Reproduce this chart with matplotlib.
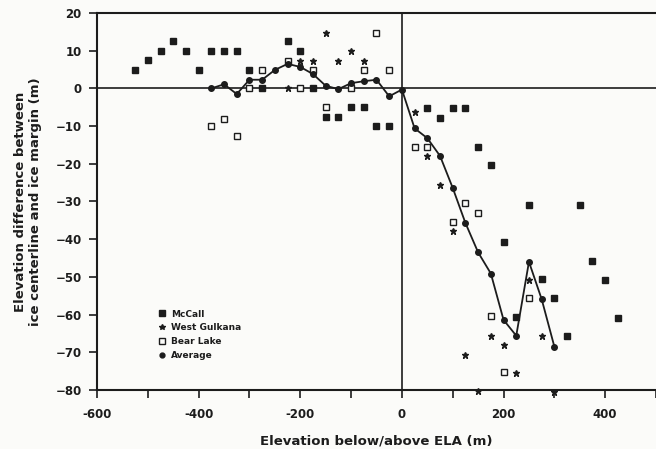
import matplotlib
matplotlib.use("Agg")
import matplotlib.pyplot as plt
from matplotlib.ticker import MultipleLocator, FuncFormatter
from matplotlib.lines import Line2D

# McCall (filled squares)
mccall_x = [-525, -500, -475, -450, -425, -400, -375, -350, -325, -300, -275,
            -225, -200, -175, -150, -125, -100, -75, -50, -25,
            50, 75, 100, 125, 150, 175, 200, 225, 250, 275, 300, 325, 350, 375, 400, 425]
mccall_y = [5, 7.5, 10, 12.5, 10, 5, 10, 10, 10, 5, 0,
            12.5, 10, 0, -7.5, -7.5, -5, -5, -10, -10,
            -5.3, -7.9, -5.3, -5.3, -15.5, -20.3, -40.7, -60.6, -30.9, -50.6, -55.7, -65.6,
            -30.9, -45.8, -50.8, -60.8]

# West Gulkana (stars)
gulkana_x = [-225, -200, -175, -150, -125, -100, -75,
             25, 50, 75, 100, 125, 150, 175, 200, 225, 250, 275, 300]
gulkana_y = [0, 7.3, 7.3, 14.7, 7.3, 9.8, 7.3,
             -6.2, -17.9, -25.6, -37.9, -70.6, -80.2, -65.7, -68, -75.5, -50.8, -65.8, -80.5]

# Bear Lake (open squares)
bear_x = [-375, -350, -325, -300, -275, -225, -200, -175, -150, -100, -75, -50, -25,
          25, 50, 100, 125, 150, 175, 200, 250]
bear_y = [-10, -8, -12.5, 0, 5, 7.3, 0, 5, -4.9, 0, 5, 14.7, 5,
          -15.5, -15.5, -35.5, -30.5, -33, -60.5, -75.3, -55.6]

# Average (filled circles, line)
avg_x = [-375, -350, -325, -300, -275, -250, -225, -200, -175, -150, -125, -100, -75, -50, -25, 0,
         25, 50, 75, 100, 125, 150, 175, 200, 225, 250, 275, 300]
avg_y = [0, 1.1, -1.5, 2.3, 2.3, 4.9, 6.5, 5.7, 3.8, 0.7, -0.2, 1.4, 1.9, 2.3, -2.1, -0.3,
         -10.6, -13.2, -17.9, -26.4, -35.7, -43.5, -49.1, -61.4, -65.6, -46, -55.9, -68.5]

xlabel = "Elevation below/above ELA (m)"
ylabel = "Elevation difference between\nice centerline and ice margin (m)"
legend_labels = ["McCall", "West Gulkana", "Bear Lake", "Average"]

ink = "#1c1c1c"
bg = "#fbfbf9"
fig = plt.figure(figsize=(6.56, 4.49), dpi=100, facecolor=bg)
ax = fig.add_axes([97/656, 1 - 390/449, (656 - 97)/656, (390 - 13)/449], facecolor=bg)

ax.set_xlim(-600, 500)
ax.set_ylim(-80, 20)

ax.axhline(0, color=ink, lw=1.2, zorder=1)
ax.axvline(0, color=ink, lw=1.2, zorder=1)

ax.plot(mccall_x, mccall_y, ls="none", marker="s", ms=4.5, color=ink,
        label=legend_labels[0], zorder=3)
ax.plot(gulkana_x, gulkana_y, ls="none", marker="*", ms=4.5, color=ink,
        label=legend_labels[1], zorder=3, clip_on=False)
ax.plot(bear_x, bear_y, ls="none", marker="s", ms=4.5, mfc=bg, mec=ink, mew=1.0,
        label=legend_labels[2], zorder=3)
ax.plot(avg_x, avg_y, ls="-", lw=1.3, marker="o", ms=4, color=ink,
        label=legend_labels[3], zorder=4)

handles = [
    Line2D([], [], ls="none", marker="s", ms=4, color=ink),
    Line2D([], [], ls="none", marker="*", ms=4, color=ink),
    Line2D([], [], ls="none", marker="s", ms=4, mfc=bg, mec=ink, mew=1.0),
    Line2D([], [], ls="none", marker="o", ms=3.5, color=ink),
]
leg = ax.legend(handles, legend_labels, loc="upper left", bbox_to_anchor=(0.095, 0.235),
                frameon=False, handlelength=0.8, handletextpad=0.6, labelspacing=0.55,
                prop={"family": "DejaVu Sans", "weight": "bold", "size": 6.5})
for t in leg.get_texts():
    t.set_color(ink)

ax.xaxis.set_major_locator(MultipleLocator(100))
ax.xaxis.set_major_formatter(FuncFormatter(
    lambda v, p: f"{int(round(v))}" if int(round(v)) % 200 == 0 and v < 500 else ""))
ax.yaxis.set_major_locator(MultipleLocator(10))
ax.tick_params(direction="out", length=6, width=1.2, labelsize=8.5, colors=ink)
ax.tick_params(axis="x", pad=7)
ax.tick_params(axis="y", pad=5)
for lab in ax.get_xticklabels() + ax.get_yticklabels():
    lab.set_fontweight("bold")

for s in ["left", "bottom", "top"]:
    ax.spines[s].set_linewidth(1.5)
    ax.spines[s].set_color(ink)
ax.spines["right"].set_visible(False)

ax.set_xlabel(xlabel, fontsize=9.5, fontweight="bold", labelpad=10, color=ink)
ax.set_ylabel(ylabel, fontsize=9.5, fontweight="bold", labelpad=10, color=ink,
              linespacing=1.2)

fig.savefig("out.png", dpi=100, facecolor=bg)
